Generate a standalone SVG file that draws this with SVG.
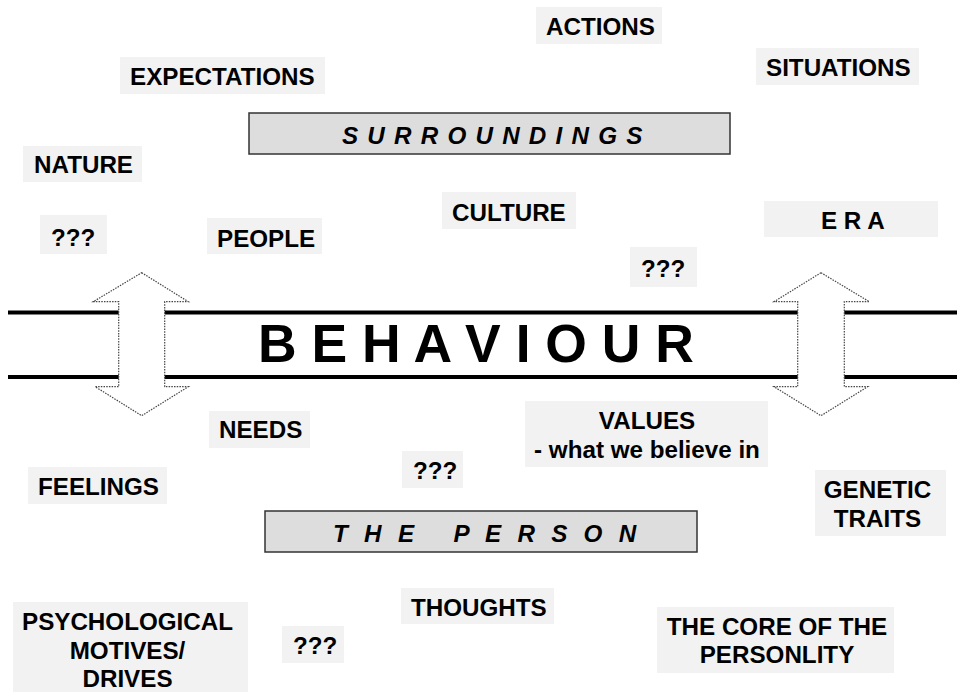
<svg xmlns="http://www.w3.org/2000/svg" width="957" height="692" viewBox="0 0 957 692">
  <style>
    .lbl { fill: #f2f2f2; }
    .t { font-family: "Liberation Sans", Arial, sans-serif; font-weight: bold; font-size: 24.2px; fill: #000; }
    .mid { text-anchor: middle; }
    .title-box { fill: #dddddd; stroke: #333; stroke-width: 1.5; }
    .title { font-family: "Liberation Sans", Arial, sans-serif; font-weight: bold; font-style: italic; font-size: 24.2px; fill: #000; }
    .band { stroke: #000; stroke-width: 4; }
    .dbl { fill: #fff; stroke: #444; stroke-width: 1.2; stroke-dasharray: 1.5 1.2; }
  </style>

  <!-- central behaviour band -->
  <g id="behaviour">
    <line class="band" x1="8" y1="312.5" x2="957" y2="312.5"/>
    <line class="band" x1="8" y1="377" x2="957" y2="377"/>
    <text x="258" y="362" font-family="Liberation Sans, Arial, sans-serif" font-weight="bold" font-size="53.5" xml:space="preserve">B E H A V I O U R</text>
  </g>

  <!-- double-headed arrows linking surroundings and person -->
  <g id="connectors">
    <path class="dbl" d="M141.7,272.7 L188.3,301.7 L164.7,301.7 L164.7,386.7 L188.3,386.7 L141.7,415.7 L95.2,386.7 L118.7,386.7 L118.7,301.7 L93.3,301.7 Z"/>
    <path class="dbl" d="M821,272.7 L869.3,301.7 L844.3,301.7 L844.3,386.7 L867.7,386.7 L821,415.7 L774,386.7 L797.7,386.7 L797.7,301.7 L774,301.7 Z"/>
  </g>

  <!-- headings -->
  <g id="surroundings">
    <rect class="title-box" x="249" y="113" width="481" height="41"/>
    <text class="title" x="342" y="144" letter-spacing="1.25" xml:space="preserve">S U R R O U N D I N G S</text>
  </g>
  <g id="the-person">
    <rect class="title-box" x="265" y="511" width="432" height="41"/>
    <text class="title" x="333" y="542" letter-spacing="4.8" xml:space="preserve">T H E   P E R S O N</text>
  </g>

  <!-- surroundings factors -->
  <g id="actions">
    <rect class="lbl" x="536" y="7" width="126" height="37"/>
    <text class="t" x="546" y="35">ACTIONS</text>
  </g>
  <g id="expectations">
    <rect class="lbl" x="120" y="57" width="205" height="37"/>
    <text class="t" x="130" y="85">EXPECTATIONS</text>
  </g>
  <g id="situations">
    <rect class="lbl" x="756" y="48" width="163" height="37"/>
    <text class="t" x="766" y="76">SITUATIONS</text>
  </g>
  <g id="nature">
    <rect class="lbl" x="23" y="146" width="119" height="36"/>
    <text class="t" x="34" y="173">NATURE</text>
  </g>
  <g id="culture">
    <rect class="lbl" x="442" y="192" width="134" height="37"/>
    <text class="t" x="452" y="221">CULTURE</text>
  </g>
  <g id="era">
    <rect class="lbl" x="764" y="201" width="174" height="36"/>
    <text class="t" x="821" y="229">E R A</text>
  </g>
  <g id="unknown-1">
    <rect class="lbl" x="40" y="215" width="67" height="39"/>
    <text class="t" x="51" y="246">???</text>
  </g>
  <g id="people">
    <rect class="lbl" x="207" y="218" width="115" height="36"/>
    <text class="t" x="217" y="247">PEOPLE</text>
  </g>
  <g id="unknown-2">
    <rect class="lbl" x="630" y="247" width="67" height="40"/>
    <text class="t" x="641" y="277">???</text>
  </g>

  <!-- personal factors -->
  <g id="needs">
    <rect class="lbl" x="209" y="411" width="101" height="37"/>
    <text class="t" x="219" y="438">NEEDS</text>
  </g>
  <g id="values">
    <rect class="lbl" x="525" y="401" width="243" height="66"/>
    <text class="t mid" x="647" y="429">VALUES</text>
    <text class="t mid" x="647" y="458">- what we believe in</text>
  </g>
  <g id="unknown-3">
    <rect class="lbl" x="402" y="451" width="61" height="37"/>
    <text class="t" x="413" y="479">???</text>
  </g>
  <g id="feelings">
    <rect class="lbl" x="28" y="467" width="139" height="37"/>
    <text class="t" x="38" y="495">FEELINGS</text>
  </g>
  <g id="genetic-traits">
    <rect class="lbl" x="815" y="470" width="131" height="66"/>
    <text class="t mid" x="877.5" y="498">GENETIC</text>
    <text class="t mid" x="877.5" y="527">TRAITS</text>
  </g>
  <g id="thoughts">
    <rect class="lbl" x="401" y="588" width="153" height="36"/>
    <text class="t" x="411" y="616">THOUGHTS</text>
  </g>
  <g id="psychological-motives">
    <rect class="lbl" x="13" y="602" width="235" height="90"/>
    <text class="t mid" x="127.5" y="630">PSYCHOLOGICAL</text>
    <text class="t mid" x="127.5" y="659">MOTIVES/</text>
    <text class="t mid" x="127.5" y="687">DRIVES</text>
  </g>
  <g id="unknown-4">
    <rect class="lbl" x="282" y="626" width="62" height="37"/>
    <text class="t" x="293" y="654">???</text>
  </g>
  <g id="core-of-personality">
    <rect class="lbl" x="657" y="607" width="237" height="66"/>
    <text class="t mid" x="777" y="635">THE CORE OF THE</text>
    <text class="t mid" x="777" y="663">PERSONLITY</text>
  </g>
</svg>
